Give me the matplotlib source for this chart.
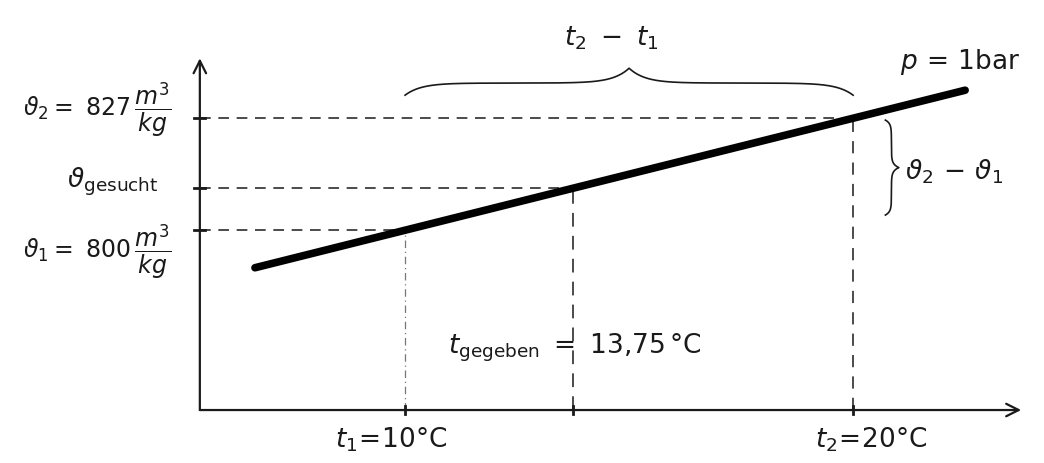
import numpy as np
import matplotlib.pyplot as plt

plt.rcParams['font.family'] = ['DejaVu Sans']
plt.rcParams['mathtext.fontset'] = 'dejavusans'

# known table values (p = 1 bar) and the given temperature
t_known = [10.0, 20.0]
v_known = [800.0, 827.0]
t_given = 13.75
v_sought = np.interp(t_given, t_known, v_known)

# end points of the drawn isobar
line_t = [6.65, 22.5]
line_v = [790.9, 833.7]

# axis origin and extents (in degC / m^3/kg)
T_O, V_O = 5.42, 756.6
T_END, V_END = 23.75, 841.4

INK = '#1a1a1a'


def hbrace(ax, x0, x1, y, h, **kw):
    # curly brace over [x0, x1], tip pointing up by h
    u = np.linspace(0, 1, 200)
    k = 14
    a = 0.45 * h
    half = a * (1 - np.exp(-k * u)) + (h - a) * np.exp(-k * (1 - u))
    xs = np.concatenate([x0 + u * (x1 - x0) / 2, x1 - u[::-1] * (x1 - x0) / 2])
    ys = np.concatenate([half, half[::-1]])
    ax.plot(xs, y + ys, **kw)


def vbrace(ax, y0, y1, x, w, **kw):
    # curly brace along [y0, y1], tip pointing right by w
    u = np.linspace(0, 1, 200)
    k = 14
    a = 0.45 * w
    half = a * (1 - np.exp(-k * u)) + (w - a) * np.exp(-k * (1 - u))
    ys = np.concatenate([y0 + u * (y1 - y0) / 2, y1 - u[::-1] * (y1 - y0) / 2])
    xs = np.concatenate([half, half[::-1]])
    ax.plot(x + xs, ys, **kw)


fig = plt.figure(figsize=(10.44, 4.63), dpi=100)
ax = fig.add_axes([0, 0, 1, 1])
ax.set_xlim(0.96, 24.26)
ax.set_ylim(743.83, 855.45)
ax.axis('off')

# axes with open arrow heads
arrow = dict(arrowstyle='->,head_length=0.9,head_width=0.45', lw=1.6, color=INK,
             shrinkA=0, shrinkB=0)
ax.annotate('', xy=(T_END, V_O), xytext=(T_O, V_O), arrowprops=arrow)
ax.annotate('', xy=(T_O, V_END), xytext=(T_O, V_O), arrowprops=arrow)

# helper lines
dash = dict(color=INK, lw=1.1, dashes=(7, 5))
for t, v in zip(t_known, v_known):
    ax.plot([T_O, t], [v, v], **dash)
ax.plot([T_O, t_given], [v_sought, v_sought], **dash)
ax.plot([t_known[0], t_known[0]], [V_O, v_known[0]], color='#777777', lw=0.9,
        dashes=(6, 3, 1, 3))
ax.plot([t_given, t_given], [V_O, v_sought], color=INK, lw=1.1, dashes=(9, 6))
ax.plot([t_known[1], t_known[1]], [V_O, v_known[1]], color=INK, lw=1.1, dashes=(8, 6))

# small ticks where the helper lines meet the axes
for t in t_known + [t_given]:
    ax.plot([t, t], [V_O - 1.0, V_O + 1.0], color=INK, lw=2)
for v in v_known + [v_sought]:
    ax.plot([T_O - 0.12, T_O + 0.12], [v, v], color=INK, lw=2)

# the isobar
ax.plot(line_t, line_v, color='black', lw=5.5, solid_capstyle='round')

# braces
hbrace(ax, t_known[0], t_known[1], 832.5, 6.5, color=INK, lw=1.2)
vbrace(ax, v_known[1] - 0.5, v_known[0] + 3.6, t_known[1] + 0.72, 0.3, color=INK, lw=1.2)

txt = dict(color=INK, fontsize=19)
ax.text(4.8, 829.0, r'$\vartheta_2 =\ 827\,\dfrac{m^3}{kg}$', ha='right', va='center',
        color=INK, fontsize=17)
ax.text(4.5, v_sought + 1.5, r'$\vartheta_{\mathrm{gesucht}}$', ha='right', va='center', **txt)
ax.text(4.8, 794.8, r'$\vartheta_1 =\ 800\,\dfrac{m^3}{kg}$', ha='right', va='center',
        color=INK, fontsize=17)

ax.text(14.6, 846.3, r'$t_2\ -\ t_1$', ha='center', va='center', **txt)
ax.text(21.05, 840.5, r'$p\,=\,1\mathrm{bar}$', ha='left', va='center', **txt)
ax.text(21.15, 814.0, r'$\vartheta_2\,-\,\vartheta_1$', ha='left', va='center', **txt)
ax.text(10.96, 771.6, r'$t_{\mathrm{gegeben}}\ =\ 13{,}75\,\degree\mathrm{C}$',
        ha='left', va='center', **txt)
ax.text(t_known[0] - 0.3, 749.4, r'$t_1\!=\!10\degree\mathrm{C}$', ha='center', va='center', **txt)
ax.text(t_known[1] + 0.4, 749.4, r'$t_2\!=\!20\degree\mathrm{C}$', ha='center', va='center', **txt)

fig.savefig('out.png', dpi=100, facecolor='white')
